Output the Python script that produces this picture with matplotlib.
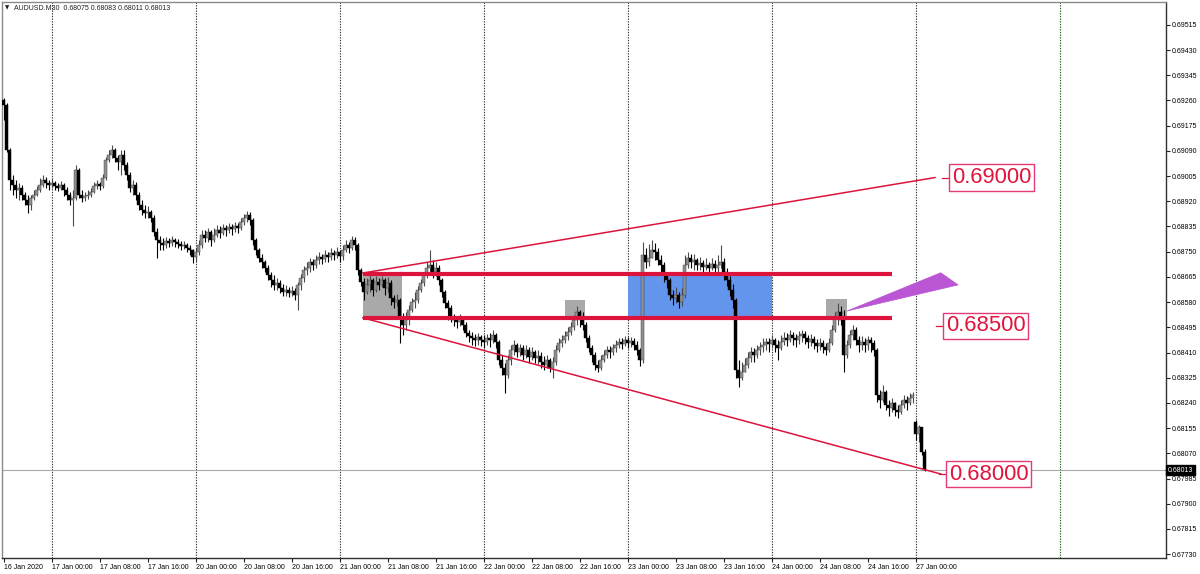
import matplotlib
matplotlib.use("Agg")
import matplotlib.pyplot as plt
from matplotlib.patches import Rectangle, Polygon

# ---------------- data ----------------
title_text = "AUDUSD.M30  0.68075 0.68083 0.68011 0.68013"
first_open = 0.69262
weekend_index = 304          # first bar of 27 Jan (gap open)
weekend_open = 0.68175

closes = [
    0.69245, 0.69093, 0.68992, 0.68975, 0.68958, 0.68965, 0.68941, 0.68924, 0.68907, 0.68931, 0.68941, 0.68958, 0.68975, 0.68992, 0.68982, 0.68975,
    0.68982, 0.68972, 0.68965, 0.68975, 0.68958, 0.68941, 0.68924, 0.68931, 0.69026, 0.68941, 0.68931, 0.68938, 0.68941, 0.68951, 0.68972, 0.68979,
    0.68972, 0.68999, 0.69059, 0.69076, 0.69093, 0.69066, 0.69052, 0.69076, 0.69042, 0.69009, 0.68965, 0.68975, 0.68941, 0.68907, 0.68891, 0.68881,
    0.68884, 0.68864, 0.68816, 0.68790, 0.68780, 0.68773, 0.68787, 0.68780, 0.68790, 0.68783, 0.68777, 0.68770, 0.68773, 0.68763, 0.68756, 0.68732,
    0.68749, 0.68773, 0.68806, 0.68796, 0.68816, 0.68790, 0.68806, 0.68823, 0.68813, 0.68830, 0.68823, 0.68833, 0.68827, 0.68837, 0.68830, 0.68850,
    0.68864, 0.68874, 0.68857, 0.68790, 0.68756, 0.68729, 0.68715, 0.68695, 0.68671, 0.68655, 0.68638, 0.68645, 0.68628, 0.68614, 0.68621, 0.68611,
    0.68618, 0.68604, 0.68638, 0.68661, 0.68688, 0.68695, 0.68715, 0.68705, 0.68722, 0.68732, 0.68726, 0.68739, 0.68732, 0.68746, 0.68739, 0.68749,
    0.68736, 0.68756, 0.68773, 0.68763, 0.68790, 0.68773, 0.68688, 0.68648, 0.68614, 0.68638, 0.68655, 0.68621, 0.68648, 0.68638, 0.68655, 0.68628,
    0.68645, 0.68594, 0.68580, 0.68587, 0.68526, 0.68503, 0.68526, 0.68553, 0.68580, 0.68587, 0.68621, 0.68645, 0.68671, 0.68695, 0.68705, 0.68681,
    0.68695, 0.68655, 0.68614, 0.68577, 0.68560, 0.68526, 0.68520, 0.68513, 0.68526, 0.68503, 0.68476, 0.68466, 0.68459, 0.68452, 0.68462, 0.68452,
    0.68445, 0.68459, 0.68452, 0.68469, 0.68445, 0.68385, 0.68358, 0.68334, 0.68385, 0.68418, 0.68435, 0.68411, 0.68425, 0.68401, 0.68418, 0.68394,
    0.68411, 0.68391, 0.68398, 0.68378, 0.68368, 0.68385, 0.68358, 0.68378, 0.68418, 0.68442, 0.68452, 0.68466, 0.68479, 0.68496, 0.68520, 0.68546,
    0.68526, 0.68503, 0.68459, 0.68425, 0.68401, 0.68368, 0.68358, 0.68385, 0.68401, 0.68418, 0.68411, 0.68425, 0.68435, 0.68445, 0.68439, 0.68452,
    0.68442, 0.68449, 0.68435, 0.68418, 0.68385, 0.68739, 0.68715, 0.68729, 0.68756, 0.68749, 0.68722, 0.68705, 0.68671, 0.68655, 0.68604, 0.68594,
    0.68604, 0.68580, 0.68604, 0.68705, 0.68729, 0.68715, 0.68722, 0.68705, 0.68712, 0.68698, 0.68705, 0.68695, 0.68709, 0.68695, 0.68705, 0.68715,
    0.68681, 0.68655, 0.68621, 0.68587, 0.68351, 0.68324, 0.68344, 0.68368, 0.68391, 0.68411, 0.68401, 0.68418, 0.68428, 0.68435, 0.68445, 0.68439,
    0.68452, 0.68435, 0.68425, 0.68445, 0.68459, 0.68452, 0.68469, 0.68459, 0.68452, 0.68466, 0.68473, 0.68459, 0.68445, 0.68455, 0.68442, 0.68432,
    0.68442, 0.68428, 0.68418, 0.68442, 0.68486, 0.68526, 0.68546, 0.68520, 0.68401, 0.68435, 0.68469, 0.68486, 0.68452, 0.68435, 0.68445, 0.68435,
    0.68452, 0.68442, 0.68418, 0.68267, 0.68250, 0.68277, 0.68233, 0.68223, 0.68240, 0.68216, 0.68209, 0.68233, 0.68250, 0.68240, 0.68257, 0.68267,
    0.68135, 0.68159, 0.68075, 0.68013,
]

highs = [
    0.69268, 0.69252, 0.69100, 0.69009, 0.68992, 0.68982, 0.68975, 0.68951, 0.68941, 0.68941, 0.68958, 0.68972, 0.68999, 0.69009, 0.69002, 0.68992,
    0.68999, 0.68989, 0.68982, 0.68989, 0.68982, 0.68968, 0.68951, 0.68958, 0.69042, 0.69032, 0.68958, 0.68951, 0.68958, 0.68965, 0.68985, 0.68992,
    0.68985, 0.69013, 0.69069, 0.69093, 0.69110, 0.69100, 0.69076, 0.69093, 0.69093, 0.69052, 0.69019, 0.68992, 0.68985, 0.68951, 0.68924, 0.68907,
    0.68904, 0.68891, 0.68874, 0.68830, 0.68803, 0.68796, 0.68800, 0.68796, 0.68803, 0.68796, 0.68793, 0.68787, 0.68787, 0.68780, 0.68773, 0.68760,
    0.68763, 0.68790, 0.68823, 0.68823, 0.68830, 0.68823, 0.68830, 0.68840, 0.68837, 0.68844, 0.68840, 0.68847, 0.68844, 0.68850, 0.68847, 0.68864,
    0.68877, 0.68888, 0.68884, 0.68864, 0.68796, 0.68763, 0.68742, 0.68722, 0.68705, 0.68681, 0.68671, 0.68661, 0.68655, 0.68641, 0.68638, 0.68631,
    0.68635, 0.68628, 0.68648, 0.68675, 0.68702, 0.68715, 0.68729, 0.68726, 0.68739, 0.68749, 0.68742, 0.68756, 0.68749, 0.68763, 0.68756, 0.68766,
    0.68756, 0.68773, 0.68790, 0.68783, 0.68803, 0.68800, 0.68780, 0.68695, 0.68661, 0.68661, 0.68671, 0.68661, 0.68668, 0.68661, 0.68668, 0.68661,
    0.68664, 0.68655, 0.68604, 0.68608, 0.68594, 0.68543, 0.68546, 0.68570, 0.68594, 0.68614, 0.68635, 0.68658, 0.68681, 0.68715, 0.68756, 0.68722,
    0.68715, 0.68705, 0.68661, 0.68621, 0.68587, 0.68570, 0.68540, 0.68533, 0.68540, 0.68533, 0.68513, 0.68486, 0.68479, 0.68473, 0.68476, 0.68469,
    0.68469, 0.68473, 0.68476, 0.68486, 0.68476, 0.68452, 0.68401, 0.68375, 0.68401, 0.68435, 0.68452, 0.68442, 0.68439, 0.68435, 0.68435, 0.68428,
    0.68428, 0.68418, 0.68418, 0.68411, 0.68398, 0.68401, 0.68391, 0.68394, 0.68435, 0.68459, 0.68469, 0.68483, 0.68496, 0.68513, 0.68536, 0.68567,
    0.68553, 0.68546, 0.68513, 0.68469, 0.68435, 0.68411, 0.68385, 0.68401, 0.68418, 0.68432, 0.68432, 0.68439, 0.68452, 0.68459, 0.68459, 0.68466,
    0.68462, 0.68462, 0.68459, 0.68449, 0.68425, 0.68783, 0.68763, 0.68777, 0.68790, 0.68780, 0.68763, 0.68739, 0.68715, 0.68681, 0.68661, 0.68621,
    0.68631, 0.68614, 0.68628, 0.68739, 0.68749, 0.68742, 0.68742, 0.68729, 0.68732, 0.68722, 0.68729, 0.68715, 0.68729, 0.68722, 0.68739, 0.68773,
    0.68729, 0.68695, 0.68668, 0.68641, 0.68594, 0.68385, 0.68378, 0.68391, 0.68411, 0.68428, 0.68425, 0.68435, 0.68445, 0.68459, 0.68459, 0.68459,
    0.68469, 0.68459, 0.68452, 0.68469, 0.68479, 0.68476, 0.68486, 0.68479, 0.68473, 0.68483, 0.68486, 0.68483, 0.68469, 0.68473, 0.68466, 0.68455,
    0.68459, 0.68452, 0.68442, 0.68459, 0.68503, 0.68546, 0.68577, 0.68567, 0.68553, 0.68452, 0.68486, 0.68503, 0.68496, 0.68466, 0.68466, 0.68459,
    0.68466, 0.68462, 0.68452, 0.68425, 0.68284, 0.68301, 0.68284, 0.68250, 0.68257, 0.68243, 0.68233, 0.68250, 0.68267, 0.68264, 0.68274, 0.68277,
    0.68182, 0.68166, 0.68159, 0.68083,
]

lows = [
    0.69194, 0.69086, 0.68958, 0.68941, 0.68931, 0.68924, 0.68924, 0.68907, 0.68881, 0.68891, 0.68924, 0.68938, 0.68951, 0.68968, 0.68965, 0.68958,
    0.68965, 0.68958, 0.68955, 0.68958, 0.68938, 0.68924, 0.68907, 0.68837, 0.68924, 0.68931, 0.68917, 0.68921, 0.68928, 0.68934, 0.68948, 0.68962,
    0.68958, 0.68965, 0.68992, 0.69052, 0.69066, 0.69052, 0.69026, 0.69009, 0.69026, 0.68992, 0.68951, 0.68941, 0.68924, 0.68891, 0.68874, 0.68864,
    0.68864, 0.68850, 0.68803, 0.68729, 0.68756, 0.68756, 0.68763, 0.68766, 0.68770, 0.68766, 0.68763, 0.68756, 0.68760, 0.68749, 0.68739, 0.68712,
    0.68715, 0.68739, 0.68763, 0.68783, 0.68783, 0.68770, 0.68783, 0.68800, 0.68796, 0.68806, 0.68803, 0.68813, 0.68806, 0.68816, 0.68813, 0.68823,
    0.68840, 0.68850, 0.68840, 0.68773, 0.68739, 0.68715, 0.68695, 0.68681, 0.68655, 0.68631, 0.68621, 0.68621, 0.68611, 0.68601, 0.68601, 0.68597,
    0.68601, 0.68587, 0.68553, 0.68621, 0.68648, 0.68671, 0.68681, 0.68688, 0.68695, 0.68709, 0.68709, 0.68715, 0.68715, 0.68722, 0.68722, 0.68729,
    0.68715, 0.68722, 0.68749, 0.68746, 0.68756, 0.68756, 0.68671, 0.68635, 0.68587, 0.68608, 0.68614, 0.68601, 0.68614, 0.68621, 0.68631, 0.68604,
    0.68614, 0.68570, 0.68560, 0.68567, 0.68441, 0.68469, 0.68486, 0.68503, 0.68546, 0.68560, 0.68577, 0.68614, 0.68635, 0.68661, 0.68681, 0.68661,
    0.68668, 0.68638, 0.68597, 0.68560, 0.68520, 0.68513, 0.68500, 0.68493, 0.68500, 0.68486, 0.68462, 0.68445, 0.68435, 0.68432, 0.68435, 0.68432,
    0.68425, 0.68435, 0.68428, 0.68442, 0.68425, 0.68368, 0.68334, 0.68274, 0.68324, 0.68368, 0.68401, 0.68394, 0.68398, 0.68385, 0.68391, 0.68375,
    0.68385, 0.68375, 0.68372, 0.68358, 0.68351, 0.68358, 0.68344, 0.68324, 0.68368, 0.68411, 0.68428, 0.68442, 0.68452, 0.68469, 0.68486, 0.68503,
    0.68496, 0.68486, 0.68445, 0.68411, 0.68378, 0.68351, 0.68344, 0.68351, 0.68378, 0.68391, 0.68391, 0.68401, 0.68411, 0.68425, 0.68422, 0.68432,
    0.68425, 0.68428, 0.68418, 0.68401, 0.68365, 0.68375, 0.68695, 0.68702, 0.68729, 0.68722, 0.68705, 0.68681, 0.68648, 0.68628, 0.68587, 0.68570,
    0.68577, 0.68560, 0.68567, 0.68594, 0.68695, 0.68695, 0.68688, 0.68688, 0.68688, 0.68681, 0.68688, 0.68671, 0.68688, 0.68675, 0.68681, 0.68695,
    0.68655, 0.68635, 0.68601, 0.68560, 0.68324, 0.68294, 0.68317, 0.68344, 0.68358, 0.68378, 0.68378, 0.68391, 0.68401, 0.68411, 0.68418, 0.68411,
    0.68425, 0.68411, 0.68385, 0.68418, 0.68435, 0.68432, 0.68445, 0.68435, 0.68428, 0.68439, 0.68445, 0.68439, 0.68425, 0.68432, 0.68422, 0.68411,
    0.68418, 0.68408, 0.68401, 0.68411, 0.68435, 0.68479, 0.68503, 0.68503, 0.68344, 0.68391, 0.68425, 0.68452, 0.68435, 0.68411, 0.68418, 0.68411,
    0.68418, 0.68411, 0.68398, 0.68243, 0.68223, 0.68243, 0.68216, 0.68196, 0.68209, 0.68196, 0.68189, 0.68203, 0.68223, 0.68216, 0.68233, 0.68240,
    0.68115, 0.68108, 0.68064, 0.68011,
]

bid_price = 0.68013

x_tick_labels = ["16 Jan 2020", "17 Jan 00:00", "17 Jan 08:00", "17 Jan 16:00",
                 "20 Jan 00:00", "20 Jan 08:00", "20 Jan 16:00",
                 "21 Jan 00:00", "21 Jan 08:00", "21 Jan 16:00",
                 "22 Jan 00:00", "22 Jan 08:00", "22 Jan 16:00",
                 "23 Jan 00:00", "23 Jan 08:00", "23 Jan 16:00",
                 "24 Jan 00:00", "24 Jan 08:00", "24 Jan 16:00",
                 "27 Jan 00:00"]
bars_per_label = 16
day_start_bars = [16, 64, 112, 160, 208, 256, 304]
next_day_bar = 352

y_ticks = [0.69515, 0.69430, 0.69345, 0.69260, 0.69175, 0.69090, 0.69005,
           0.68920, 0.68835, 0.68750, 0.68665, 0.68580, 0.68495, 0.68410,
           0.68325, 0.68240, 0.68155, 0.68070, 0.67985, 0.67900, 0.67815,
           0.67730]

# drawing objects (bar index, price)
channel_top = 0.68675
channel_bottom = 0.68527
channel_start, channel_end = 119.8, 296.2
upper_trend = [(119.8, 0.68678), (310.5, 0.69000)]
lower_trend = [(119.8, 0.68527), (312.5, 0.68000)]
blue_zone = (208.2, 256.2, 0.68527, 0.68675)
gray_boxes = [(119.8, 132.8, 0.68527, 0.68675),
              (187.2, 193.8, 0.68527, 0.68587),
              (274.2, 281.2, 0.68527, 0.68590)]
arrow_tri = [(281.2, 0.68550), (312.4, 0.68679), (318.2, 0.68638)]
price_labels = [(315.2, 0.69000, "0.69000"),
                (313.2, 0.68500, "0.68500"),
                (314.2, 0.68000, "0.68000")]

# ---------------- figure ----------------
W, H = 1200, 574
fig = plt.figure(figsize=(W / 100, H / 100), dpi=100)
fig.patch.set_facecolor("white")
ax = fig.add_axes([2 / W, 16 / H, 1164 / W, 556 / H])
ax.set_facecolor("white")

n = len(closes)
xs = list(range(n))
opens = [first_open] + closes[:-1]
opens[weekend_index] = weekend_open
hi = [max(h, o, c) for h, o, c in zip(highs, opens, closes)]
lo = [min(l, o, c) for l, o, c in zip(lows, opens, closes)]

UP = "#8f8f8f"
DN = "#000000"
up_mask = [c >= o for o, c in zip(opens, closes)]
wick_cols = ["#4a4a4a" if u else DN for u in up_mask]
body_cols = [UP if u else DN for u in up_mask]
ax.vlines(xs, lo, hi, colors=wick_cols, linewidth=0.8, zorder=3)
bottoms = [min(o, c) for o, c in zip(opens, closes)]
heights = [max(abs(c - o), 0.00002) for o, c in zip(opens, closes)]
ax.bar(xs, heights, bottom=bottoms, width=0.72, color=body_cols,
       edgecolor=["#3a3a3a" if u else DN for u in up_mask], linewidth=0.3, zorder=3)

# grid (day separators)
for d in day_start_bars:
    ax.axvline(d, color="#333333", linestyle=(0, (1.2, 1.2)), linewidth=0.8, zorder=0.5)
ax.axvline(next_day_bar, color="#1f5f1f", linestyle=(0, (1.2, 1.2)), linewidth=0.8, zorder=0.5)

# bid line
ax.axhline(bid_price, color="#a8a8a8", linewidth=0.8, zorder=0.6)

# zones (background)
ax.add_patch(Rectangle((blue_zone[0], blue_zone[2]), blue_zone[1] - blue_zone[0],
                       blue_zone[3] - blue_zone[2], facecolor="#6495ED",
                       edgecolor="none", zorder=1))
for x0, x1, p0, p1 in gray_boxes:
    ax.add_patch(Rectangle((x0, p0), x1 - x0, p1 - p0, facecolor="#A9A9A9",
                           edgecolor="none", zorder=1))

RED = "#DC143C"
ax.plot([channel_start, channel_end], [channel_top, channel_top], color=RED,
        linewidth=3.0, solid_capstyle="butt", zorder=5)
ax.plot([channel_start, channel_end], [channel_bottom, channel_bottom], color=RED,
        linewidth=3.0, solid_capstyle="butt", zorder=5)
for seg in (upper_trend, lower_trend):
    ax.plot([seg[0][0], seg[1][0]], [seg[0][1], seg[1][1]], color=RED,
            linewidth=1.1, zorder=5)

ax.add_patch(Polygon(arrow_tri, closed=True, facecolor="#BA55D3",
                     edgecolor="#BA55D3", linewidth=0.5, zorder=5))

for xi, p, txt in price_labels:
    ax.plot([xi - 2.4, xi], [p, p], color=RED, linewidth=0.9, zorder=6)
    ax.annotate(txt, xy=(xi, p), xytext=(2.0, 0), textcoords="offset points",
                ha="left", va="center", fontsize=15.8, family="Liberation Sans",
                color="#E0143C", zorder=7,
                bbox=dict(boxstyle="square,pad=0.12", facecolor="white",
                          edgecolor="#E33A7A", linewidth=1.0))

# axes limits
ax.set_xlim(-0.5, 387.5)
ax.set_ylim(0.67717, 0.69592)

# x axis
ax.set_xticks([k * bars_per_label for k in range(len(x_tick_labels))])
ax.set_xticklabels(x_tick_labels, fontsize=5, family="Liberation Sans", ha="left")
ax.tick_params(axis="x", direction="out", length=3, width=0.8, pad=1.5, color="#202020")

# y axis on right
ax.yaxis.tick_right()
ax.set_yticks(y_ticks)
ax.set_yticklabels([f"{v:.5f}" for v in y_ticks], fontsize=5, family="Liberation Sans")
ax.tick_params(axis="y", direction="out", length=3, width=0.8, pad=1.5, color="#202020")

for s in ("left", "top"):
    ax.spines[s].set_color("#8a8a8a")
    ax.spines[s].set_linewidth(1.0)
for s in ("right", "bottom"):
    ax.spines[s].set_color("#303030")
    ax.spines[s].set_linewidth(1.0)

# bid label on the price scale
ax.text(1.0015, bid_price, f"{bid_price:.5f}", transform=ax.get_yaxis_transform(),
        ha="left", va="center", fontsize=5, family="Liberation Sans", color="white",
        zorder=10, clip_on=False,
        bbox=dict(boxstyle="square,pad=0.25", facecolor="black", edgecolor="black"))

# title
fig.text(5 / W, 1 - 8 / H, "\u25bc", fontsize=4, family="DejaVu Sans",
         ha="left", va="center", color="#202020")
fig.text(14 / W, 1 - 8 / H, title_text, fontsize=5, family="Liberation Sans",
         ha="left", va="center", color="#202020")

fig.savefig("out.png", dpi=100, facecolor="white")
